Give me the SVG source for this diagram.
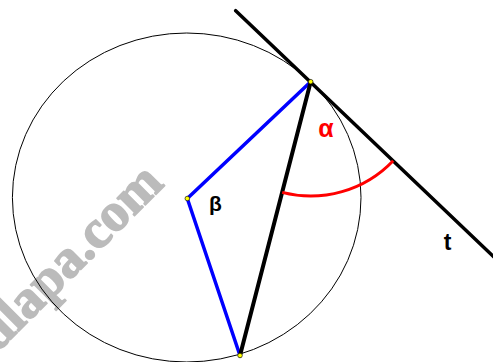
<svg xmlns="http://www.w3.org/2000/svg" width="493" height="362" viewBox="0 0 493 362">
<style>
.wm{font-family:"Liberation Serif",serif;font-weight:bold;font-size:54px;fill:#bbbbbb;stroke:#bbbbbb;stroke-width:1.6;stroke-linejoin:round}
.lbl{font-family:"Liberation Sans",Arial,sans-serif;font-weight:bold}
.pt{fill:#ffff00;stroke:#000;stroke-width:0.6}
.blue{stroke:#0000ff;stroke-width:3.5;stroke-linecap:round;fill:none}
.blk{stroke:#000;fill:none;stroke-linecap:round}
</style>
<rect width="493" height="362" fill="#fff"/>
<text class="wm" transform="translate(-3.4,353.6) rotate(-45)">dlapa.com</text>
<g id="circle"><ellipse cx="186.7" cy="197.5" rx="174.3" ry="164.5" fill="none" stroke="#000" stroke-width="1"/></g>
<g id="connectors">
<line class="blue" x1="187.3" y1="198.5" x2="310.7" y2="81.7"/>
<line class="blue" x1="187.3" y1="198.5" x2="240" y2="355.5"/>
<line class="blk" stroke-width="4" x1="310.7" y1="81.7" x2="240" y2="355.5"/>
<line class="blk" stroke-width="3.5" x1="235.7" y1="10.7" x2="497" y2="260"/>
<path d="M282.2,192.4 A114,114 0 0 0 393.2,160.7" fill="none" stroke="#ff0000" stroke-width="3"/>
</g>
<g id="center"><circle class="pt" cx="187.3" cy="198.5" r="2.3"/></g>
<g id="pointA"><circle class="pt" cx="310.7" cy="81.7" r="2.3"/></g>
<g id="pointB"><circle class="pt" cx="240" cy="355.5" r="2.3"/></g>
<g id="alpha"><text class="lbl" x="326" y="137" font-size="25" fill="#ff0000" text-anchor="middle">α</text></g>
<g id="beta"><text class="lbl" x="215.5" y="211" font-size="21" fill="#000" text-anchor="middle">β</text></g>
<g id="t"><text class="lbl" x="447.5" y="250" font-size="23" fill="#000" text-anchor="middle">t</text></g>
</svg>
